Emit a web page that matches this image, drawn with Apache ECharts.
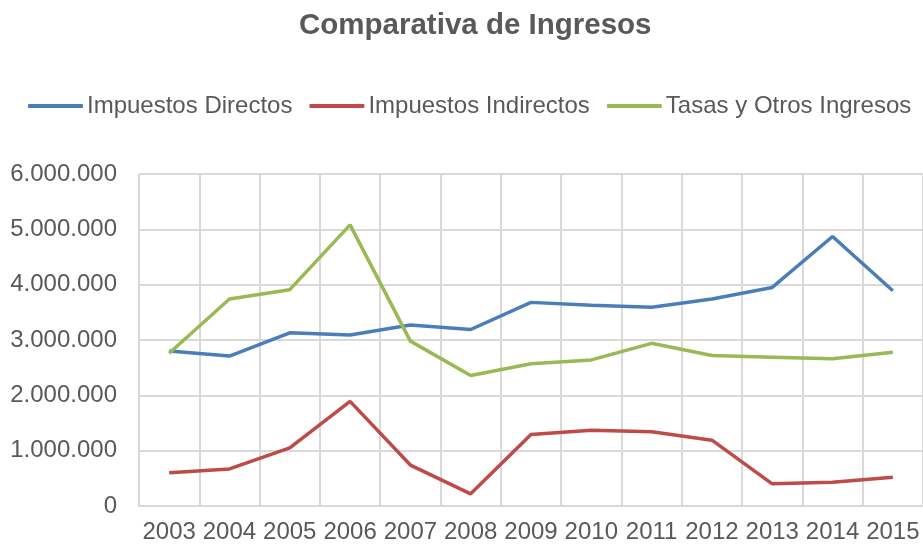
<html>
<head>
<meta charset='utf-8'>
<title>Comparativa de Ingresos</title>
<script src="https://cdn.jsdelivr.net/npm/echarts@6/dist/echarts.min.js"></script>
<style>
    body { margin: 0; background: #fff; }
    #chart { width: 923px; height: 544px; }
</style>
</head>
<body>
<div id="chart"></div>
<script type="text/javascript">
    var years = ['2003', '2004', '2005', '2006', '2007', '2008', '2009', '2010', '2011', '2012', '2013', '2014', '2015'];
    var directos = [2800000, 2710000, 3130000, 3090000, 3270000, 3190000, 3680000, 3630000, 3590000, 3740000, 3950000, 4870000, 3890000];
    var indirectos = [600000, 670000, 1050000, 1890000, 740000, 220000, 1290000, 1370000, 1340000, 1190000, 400000, 430000, 520000];
    var tasas = [2760000, 3740000, 3910000, 5080000, 2980000, 2360000, 2570000, 2640000, 2940000, 2720000, 2690000, 2660000, 2780000];

    var textColor = '#595959';
    var gridColor = '#d9d9d9';
    var font = 'Liberation Sans, Arial, sans-serif';

    function fmt(v) {
        return String(v).replace(/\B(?=(\d{3})+(?!\d))/g, '.');
    }

    function makeSeries(name, data, color) {
        return {
            name: name, type: 'line', data: data,
            symbol: 'none',
            lineStyle: {color: color, width: 3.5},
            itemStyle: {color: color}
        };
    }

    var chart = echarts.init(document.getElementById('chart'));
    var option = {
        animation: false,
        title: {
            text: 'Comparativa de Ingresos',
            left: 294, top: 6,
            textStyle: {color: textColor, fontSize: 29.5, fontWeight: 'bold', fontFamily: font}
        },
        legend: {
            top: 89, left: 23,
            itemWidth: 55, itemHeight: 4, itemGap: 17,
            icon: 'roundRect',
            textStyle: {color: textColor, fontSize: 24, fontFamily: font, padding: [0, 0, 0, -1]},
            data: ['Impuestos Directos', 'Impuestos Indirectos', 'Tasas y Otros Ingresos']
        },
        grid: {left: 139, right: 0, top: 174, bottom: 37},
        xAxis: {
            type: 'category', data: years, boundaryGap: true,
            axisLine: {lineStyle: {color: gridColor, width: 2}},
            axisTick: {show: false},
            axisLabel: {color: textColor, fontSize: 24, fontFamily: font, margin: 14, interval: 0},
            splitLine: {show: true, interval: 0, lineStyle: {color: gridColor, width: 2}}
        },
        yAxis: {
            type: 'value', min: 0, max: 6000000, interval: 1000000,
            axisLabel: {color: textColor, fontSize: 24, fontFamily: font, margin: 22, formatter: fmt},
            splitLine: {lineStyle: {color: gridColor, width: 2}}
        },
        series: [
            makeSeries('Impuestos Directos', directos, '#4a7ebb'),
            makeSeries('Impuestos Indirectos', indirectos, '#be4b48'),
            makeSeries('Tasas y Otros Ingresos', tasas, '#98b954')
        ]
    };
    chart.setOption(option);
</script>
</body>
</html>
